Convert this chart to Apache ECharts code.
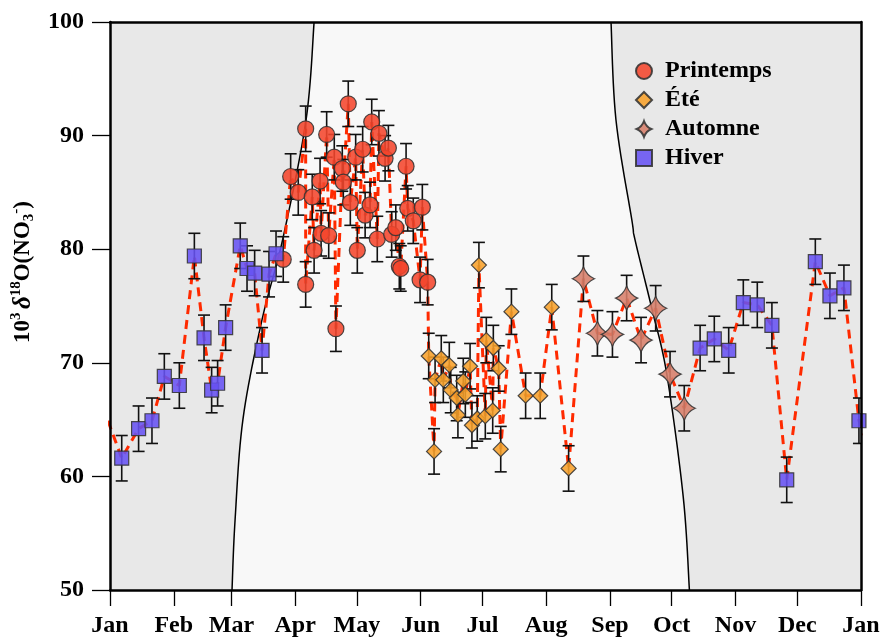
<!DOCTYPE html>
<html><head><meta charset="utf-8">
<script src="https://cdn.jsdelivr.net/npm/echarts@6/dist/echarts.min.js"></script>
<style>html,body{margin:0;padding:0;background:#fff}#c{width:882px;height:641px}</style>
</head><body><div id="c"></div>
<script>
// Axis labels
const monthLabels = ['Jan','Feb','Mar','Apr','May','Jun','Jul','Aug','Sep','Oct','Nov','Dec','Jan'];
const monthStarts = [0,31,59,90,120,151,181,212,243,273,304,334,365];

// Series: [day of year, value]
const printemps = [[84.2,79.1],[87.8,86.4],[91.5,85.0],[95.1,90.6],[95.1,76.9],[98.3,84.6],[99.2,79.9],[102.1,86.0],[102.6,81.4],[105.3,90.1],[106.3,81.2],[109.0,88.1],[109.8,73.0],[112.9,87.1],[113.4,85.9],[115.8,92.8],[116.8,84.1],[119.4,88.1],[120.2,79.9],[122.8,88.8],[124.0,83.0],[126.4,83.9],[127.2,91.2],[129.9,80.9],[130.7,90.2],[133.7,88.0],[135.3,88.9],[136.9,81.3],[138.9,81.9],[140.6,78.5],[141.3,78.3],[143.9,87.3],[144.7,83.6],[147.4,82.5],[150.7,77.3],[151.8,83.7],[154.4,77.1]];
const ete = [[154.9,70.6],[157.5,62.2],[158.0,68.5],[161.0,70.4],[162.0,68.5],[164.9,69.8],[165.6,67.6],[168.5,66.9],[169.1,65.4],[171.7,68.4],[172.7,67.2],[175.0,69.7],[175.9,64.5],[178.5,65.1],[179.3,78.6],[182.4,65.3],[182.9,72.0],[186.0,65.8],[186.3,71.3],[188.9,69.5],[189.9,62.4],[195.1,74.5],[202.0,67.1],[209.1,67.1],[214.7,74.9],[222.9,60.7]];
const automne = [[230.1,77.4],[236.9,72.6],[244.2,72.5],[251.1,75.7],[258.1,72.0],[265.2,74.8],[272.2,69.0],[279.1,66.0]];
const hiver = [[5.7,61.6],[13.9,64.2],[20.4,64.9],[26.4,68.8],[33.7,68.0],[41.0,79.4],[45.7,72.2],[49.4,67.6],[52.3,68.2],[56.2,73.1],[63.3,80.3],[66.6,78.3],[70.3,77.9],[73.9,71.1],[77.3,77.8],[80.7,79.6],[286.8,71.3],[293.7,72.1],[300.7,71.1],[307.8,75.3],[314.6,75.1],[321.7,73.3],[328.9,59.7],[342.8,78.9],[349.9,75.9],[356.7,76.6],[364.0,64.9]];
const errHalf = 2;

// Season boundary curves [day, value]
const leftBoundary = [[59.3,50],[60.8,56.2],[64.6,65.0],[73.9,73.8],[84.1,81.0],[95.3,91.4],[99.2,100]];
const rightBoundary = [[243.5,100],[245.9,91.4],[253.6,82.6],[255.2,80.8],[263.3,74.8],[270.6,69.0],[278.6,58.2],[281.6,50]];

const FONT = 'Liberation Serif';
const STAR = 'path://M0,-12 Q3.2,-3.2 11,0 Q3.2,3.2 0,12 Q-3.2,3.2 -11,0 Q-3.2,-3.2 0,-12 Z';

function catmull(pts, n) {
  const out = [];
  for (let i = 0; i < pts.length - 1; i++) {
    const p0 = pts[Math.max(0, i - 1)], p1 = pts[i], p2 = pts[i + 1], p3 = pts[Math.min(pts.length - 1, i + 2)];
    for (let k = 0; k < n; k++) {
      const t = k / n, t2 = t * t, t3 = t2 * t;
      const f = (a, b, c, d) => 0.5 * ((2 * b) + (-a + c) * t + (2 * a - 5 * b + 4 * c - d) * t2 + (-a + 3 * b - 3 * c + d) * t3);
      out.push([f(p0[0], p1[0], p2[0], p3[0]), f(p0[1], p1[1], p2[1], p3[1])]);
    }
  }
  out.push(pts[pts.length - 1]);
  return out;
}

const all = printemps.concat(ete, automne, hiver).slice().sort((a, b) => a[0] - b[0]);
const lineData = [[all[all.length - 1][0] - 365, all[all.length - 1][1]]].concat(all, [[all[0][0] + 365, all[0][1]]]);
const errData = all.map(p => [p[0], p[1], errHalf]);

const chart = echarts.init(document.getElementById('c'), null, {renderer: 'canvas'});

function scatter(name, data, symbol, size, color) {
  return {
    name, type: 'scatter', data, symbol, symbolSize: size, z: 5,
    itemStyle: {color, borderColor: '#333', borderWidth: 1.2, opacity: 0.88}
  };
}

chart.setOption({
  animation: false,
  grid: {left: 110, right: 21, top: 22, bottom: 51, outerBoundsMode: 'none', containLabel: false},
  legend: {
    orient: 'vertical', left: 630, top: 54, itemWidth: 16, itemHeight: 16, itemGap: 5, symbolKeepAspect: true,
    textStyle: {fontFamily: FONT, fontWeight: 'bold', fontSize: 24, lineHeight: 22, color: '#000', padding: [0, 0, 0, 8]},
    data: [
      {name: 'Printemps'},
      {name: 'Été'},
      {name: 'Automne'},
      {name: 'Hiver'}
    ]
  },
  xAxis: [{
    type: 'value', min: 0, max: 365, z: 10,
    axisLine: {lineStyle: {color: '#000', width: 2.5}},
    axisTick: {show: true, customValues: monthStarts, length: 16, lineStyle: {color: '#000', width: 1.3}},
    axisLabel: {customValues: monthStarts, margin: 24, fontFamily: FONT, fontWeight: 'bold', fontSize: 24, color: '#000',
      formatter: v => monthLabels[monthStarts.indexOf(Math.round(v))]},
    splitLine: {show: false}
  }, {
    type: 'value', min: 0, max: 365, position: 'top', z: 10,
    axisLine: {show: true, onZero: false, lineStyle: {color: '#000', width: 2.5}},
    axisTick: {show: false}, axisLabel: {show: false}, splitLine: {show: false}
  }],
  yAxis: [{
    type: 'value', min: 50, max: 100, interval: 10, z: 10,
    axisLine: {show: true, lineStyle: {color: '#000', width: 2.5}},
    axisTick: {show: true, length: 18, lineStyle: {color: '#000', width: 1.3}},
    axisLabel: {margin: 26, fontFamily: FONT, fontWeight: 'bold', fontSize: 24, color: '#000'},
    splitLine: {show: false},
    name: '{n|10}{sup|3} {d|δ}{sup|18}{n|O(NO}{sub|3}{sup|-}{n|)}',
    nameLocation: 'middle', nameGap: 70,
    nameTextStyle: {
      padding: [0, 0, 0, 68],
      rich: {
        n: {fontFamily: FONT, fontWeight: 'bold', fontSize: 23, lineHeight: 28, color: '#000'},
        d: {fontFamily: FONT, fontWeight: 'bold', fontStyle: 'italic', fontSize: 25, lineHeight: 28, color: '#000'},
        sup: {fontFamily: FONT, fontWeight: 'bold', fontSize: 15, lineHeight: 14, verticalAlign: 'top', color: '#000'},
        sub: {fontFamily: FONT, fontWeight: 'bold', fontSize: 15, lineHeight: 14, verticalAlign: 'bottom', color: '#000'}
      }
    }
  }, {
    type: 'value', min: 50, max: 100, position: 'right', z: 10,
    axisLine: {show: true, onZero: false, lineStyle: {color: '#000', width: 2.5}},
    axisTick: {show: false}, axisLabel: {show: false}, splitLine: {show: false}
  }],
  series: [
    {
      type: 'custom', silent: true, z: 1, clip: true, data: [[0, 50]],
      renderItem: (params, api) => {
        const tl = api.coord([0, 100]), br = api.coord([365, 50]);
        const L = catmull(leftBoundary.map(p => api.coord(p)), 12);
        const R = catmull(rightBoundary.map(p => api.coord(p)), 12);
        return {type: 'group', children: [
          {type: 'rect', shape: {x: tl[0], y: tl[1], width: br[0] - tl[0], height: br[1] - tl[1]}, style: {fill: '#e8e8e8'}},
          {type: 'polygon', shape: {points: L.concat(R)}, style: {fill: '#f8f8f8'}},
          {type: 'polyline', shape: {points: L}, style: {stroke: '#000', lineWidth: 1.5, fill: null}},
          {type: 'polyline', shape: {points: R}, style: {stroke: '#000', lineWidth: 1.5, fill: null}}
        ]};
      }
    },
    {
      type: 'line', data: lineData, showSymbol: false, symbol: 'none', z: 2, clip: true, silent: true,
      lineStyle: {color: '#ff2a00', width: 3, type: [9, 6]}
    },
    {
      type: 'custom', silent: true, z: 3, clip: true, data: errData,
      renderItem: (params, api) => {
        const x = api.value(0), y = api.value(1), e = api.value(2);
        const t = api.coord([x, y + e]), b = api.coord([x, y - e]);
        const hw = 6;
        const st = {stroke: '#111', lineWidth: 1.6};
        return {type: 'group', children: [
          {type: 'line', shape: {x1: t[0], y1: t[1], x2: b[0], y2: b[1]}, style: st},
          {type: 'line', shape: {x1: t[0] - hw, y1: t[1], x2: t[0] + hw, y2: t[1]}, style: st},
          {type: 'line', shape: {x1: b[0] - hw, y1: b[1], x2: b[0] + hw, y2: b[1]}, style: st}
        ]};
      }
    },
    scatter('Printemps', printemps, 'circle', 16, '#f4452c'),
    scatter('Été', ete, 'diamond', 15, '#f7a02a'),
    scatter('Automne', automne, STAR, [22, 24], '#d77e6a'),
    scatter('Hiver', hiver, 'rect', 14, '#6652f2')
  ]
});
</script>
</body></html>
